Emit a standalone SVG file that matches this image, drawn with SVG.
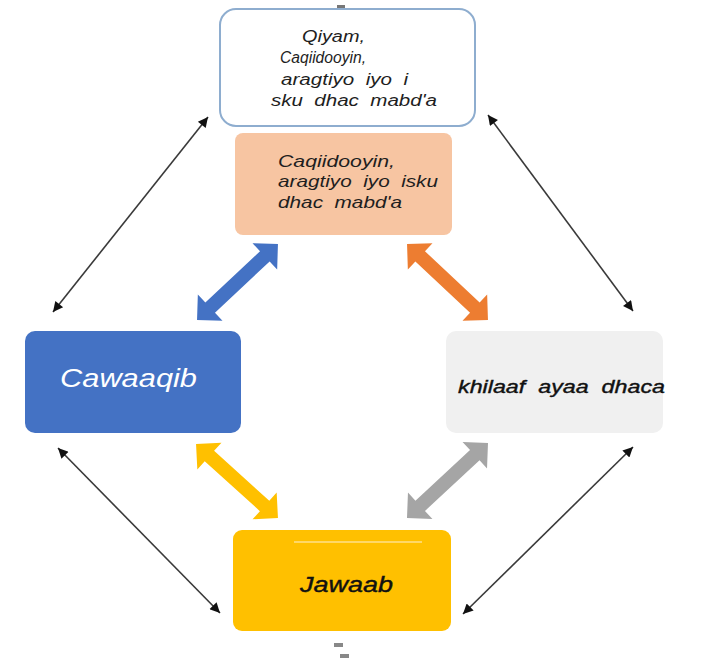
<svg xmlns="http://www.w3.org/2000/svg" width="723" height="659" viewBox="0 0 723 659">
<style>
  .t { font-family: "Liberation Sans", Arial, sans-serif; font-style: italic; }
  .dark { fill: #1e1e1e; }
  .thin { stroke: #3a3a3a; stroke-width: 1.6; fill: none; marker-start: url(#tip); marker-end: url(#tip); }
</style>
<defs>
  <marker id="tip" viewBox="0 0 10 10" refX="10" refY="5" markerUnits="userSpaceOnUse" markerWidth="12" markerHeight="10" orient="auto-start-reverse">
    <path d="M0,0 L10,5 L0,10 z" fill="#111"/>
  </marker>
</defs>
<rect width="723" height="659" fill="#ffffff"/>

<!-- artifacts -->
<rect x="337" y="5" width="8" height="4" fill="#777"/>
<rect x="334" y="643" width="9" height="4" fill="#888"/>
<rect x="340" y="654" width="9" height="4" fill="#888"/>

<g id="connectors">
  <line class="thin" x1="208" y1="117" x2="53" y2="312"/>
  <line class="thin" x1="488" y1="115" x2="633" y2="311"/>
  <line class="thin" x1="58" y1="448" x2="220" y2="613"/>
  <line class="thin" x1="633" y1="447" x2="463" y2="614"/>
  <polygon fill="#4472c4" transform="translate(237.5,282) rotate(-43.2)" points="-55.5,0 -37.5,-18 -37.5,-7 37.5,-7 37.5,-18 55.5,0 37.5,18 37.5,7 -37.5,7 -37.5,18"/>
  <polygon fill="#ed7d31" transform="translate(447.5,282) rotate(43.2)" points="-55.5,0 -37.5,-18 -37.5,-7 37.5,-7 37.5,-18 55.5,0 37.5,18 37.5,7 -37.5,7 -37.5,18"/>
  <polygon fill="#ffc000" transform="translate(237,481) rotate(42.1)" points="-55.2,0 -37.2,-18 -37.2,-7 37.2,-7 37.2,-18 55.2,0 37.2,18 37.2,7 -37.2,7 -37.2,18"/>
  <polygon fill="#a5a5a5" transform="translate(447.5,480.5) rotate(-42.8)" points="-55.2,0 -37.2,-18 -37.2,-7 37.2,-7 37.2,-18 55.2,0 37.2,18 37.2,7 -37.2,7 -37.2,18"/>
</g>

<g id="node-qiyam">
  <rect x="220" y="9" width="255" height="117" rx="16" fill="#ffffff" stroke="#8eadcf" stroke-width="2"/>
  <text class="t dark" font-size="16" x="302" y="42" textLength="63" lengthAdjust="spacingAndGlyphs">Qiyam,</text>
  <text class="t dark" font-size="16" x="280" y="63" textLength="86" lengthAdjust="spacingAndGlyphs">Caqiidooyin,</text>
  <text class="t dark" font-size="16" x="281" y="85" textLength="127" lengthAdjust="spacingAndGlyphs" xml:space="preserve">aragtiyo  iyo  i</text>
  <text class="t dark" font-size="16" x="271" y="106" textLength="166" lengthAdjust="spacingAndGlyphs" xml:space="preserve">sku  dhac  mabd'a</text>
</g>

<g id="node-caqiidooyin">
  <rect x="235" y="133" width="217" height="102" rx="8" fill="#f7c5a2"/>
  <text class="t dark" font-size="16.5" x="278" y="167" textLength="117" lengthAdjust="spacingAndGlyphs">Caqiidooyin,</text>
  <text class="t dark" font-size="16.5" x="278" y="187" textLength="160" lengthAdjust="spacingAndGlyphs" xml:space="preserve">aragtiyo  iyo  isku</text>
  <text class="t dark" font-size="16.5" x="278" y="208" textLength="124" lengthAdjust="spacingAndGlyphs" xml:space="preserve">dhac  mabd'a</text>
</g>

<g id="node-cawaaqib">
  <rect x="25" y="331" width="216" height="102" rx="10" fill="#4472c4"/>
  <text class="t" font-size="26" fill="#ffffff" x="60" y="387" textLength="137" lengthAdjust="spacingAndGlyphs">Cawaaqib</text>
</g>

<g id="node-khilaaf">
  <rect x="446" y="331" width="217" height="102" rx="10" fill="#f0f0f0"/>
  <text class="t" font-size="19" fill="#111" stroke="#111" stroke-width="0.4" x="458" y="393" textLength="207" lengthAdjust="spacingAndGlyphs" xml:space="preserve">khilaaf  ayaa  dhaca</text>
</g>

<g id="node-jawaab">
  <rect x="233" y="530" width="218" height="101" rx="9" fill="#ffc000"/>
  <line x1="294" y1="542" x2="422" y2="542" stroke="#ffe08a" stroke-width="1.5"/>
  <text class="t" font-size="22" fill="#111" stroke="#111" stroke-width="0.4" x="300" y="592" textLength="93" lengthAdjust="spacingAndGlyphs">Jawaab</text>
</g>
</svg>
